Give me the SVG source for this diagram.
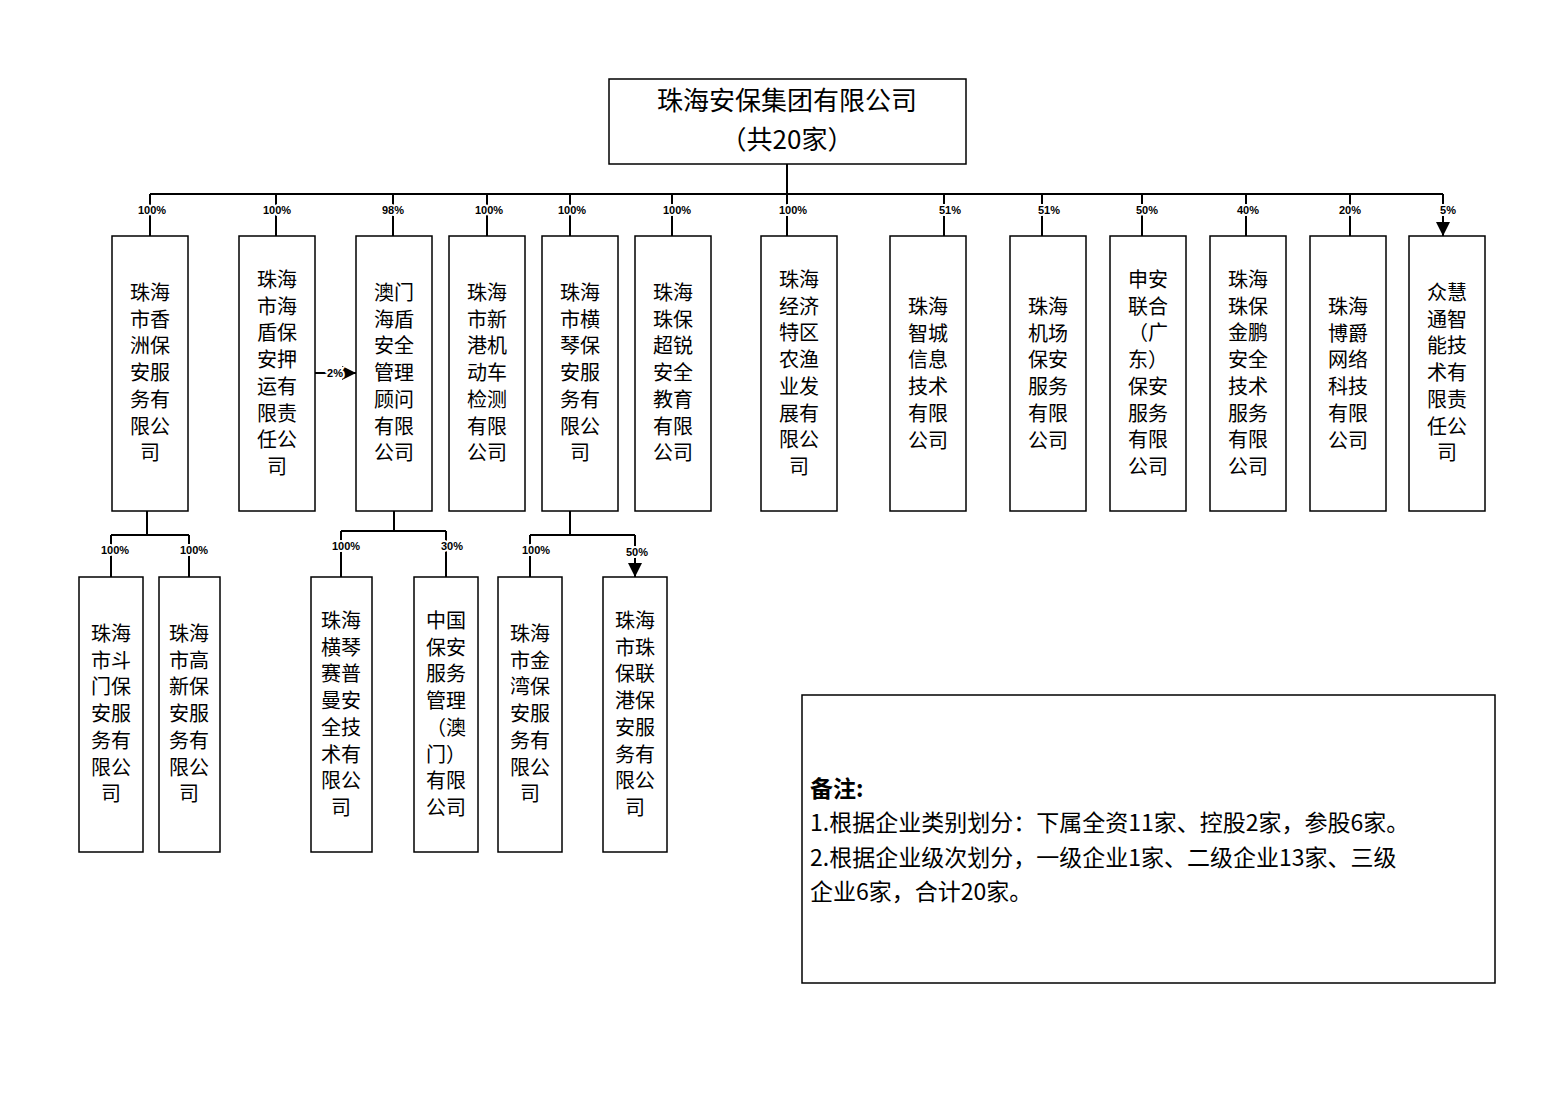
<svg xmlns="http://www.w3.org/2000/svg" width="1558" height="1101" viewBox="0 0 1558 1101">
<style>
.b{fill:#fff;stroke:#000;stroke-width:1.5}
.t{font-family:"Microsoft YaHei","Noto Sans CJK SC",sans-serif;font-size:20px;text-anchor:middle;fill:#000}
.p{font-family:"Liberation Sans","Noto Sans CJK SC",sans-serif;font-size:11px;font-weight:bold;text-anchor:middle;fill:#000;paint-order:stroke;stroke:#fff;stroke-width:4px}
.c{fill:none;stroke:#000;stroke-width:2}
.n{font-family:"Microsoft YaHei","Noto Sans CJK SC",sans-serif;font-size:23px;fill:#000}
</style>
<defs><marker id="a" viewBox="0 0 10 10" refX="10" refY="5" markerWidth="7" markerHeight="7" orient="auto" markerUnits="userSpaceOnUse"><path d="M0,0L10,5L0,10z" fill="#000"/></marker>
<marker id="ah" viewBox="0 0 10 10" refX="10" refY="5" markerWidth="14" markerHeight="14" orient="auto" markerUnits="userSpaceOnUse"><path d="M0,0L10,5L0,10z" fill="#000"/></marker></defs>
<rect width="1558" height="1101" fill="#fff"/>
<g id="connectors">
<path class="c" d="M787,164V194M150,194H1443"/>
<path class="c" marker-end="url(#ah)" d="M150,194V236M276,194V236M393,194V236M487,194V236M570,194V236M672,194V236M787,194V236M944,194V236M1042,194V236M1142,194V236M1246,194V236M1350,194V236M1443,194V236"/>
<path class="c" d="M147,511V535M111,535H189M394,511V531M341,531H446M570,511V535M530,535H635"/>
<path class="c" marker-end="url(#ah)" d="M111,535V577M189,535V577M341,531V577M446,531V577M530,535V577M635,535V577"/>
<path class="c" marker-end="url(#ah)" d="M315,373H356"/>
<text class="p" x="152" y="214">100%</text><text class="p" x="277" y="214">100%</text><text class="p" x="393" y="214">98%</text><text class="p" x="489" y="214">100%</text><text class="p" x="572" y="214">100%</text><text class="p" x="677" y="214">100%</text><text class="p" x="793" y="214">100%</text><text class="p" x="950" y="214">51%</text><text class="p" x="1049" y="214">51%</text><text class="p" x="1147" y="214">50%</text><text class="p" x="1248" y="214">40%</text><text class="p" x="1350" y="214">20%</text><text class="p" x="1448" y="214">5%</text>
<text class="p" x="335" y="377">2%</text>
<text class="p" x="115" y="554">100%</text><text class="p" x="194" y="554">100%</text><text class="p" x="346" y="550">100%</text><text class="p" x="452" y="550">30%</text><text class="p" x="536" y="554">100%</text><text class="p" x="637" y="556">50%</text>
</g>
<g id="root"><rect class="b" x="609" y="79" width="357" height="85"/><text class="t" style="font-size:26px" x="787" y="110">珠海安保集团有限公司</text><text class="t" style="font-size:26px" x="787" y="149">（共20家）</text></g>
<g id="n1"><rect class="b" x="112" y="236" width="76" height="275"/><text class="t" y="300"><tspan x="150">珠海</tspan><tspan x="150" dy="26.7">市香</tspan><tspan x="150" dy="26.7">洲保</tspan><tspan x="150" dy="26.7">安服</tspan><tspan x="150" dy="26.7">务有</tspan><tspan x="150" dy="26.7">限公</tspan><tspan x="150" dy="26.7">司</tspan></text></g>
<g id="n2"><rect class="b" x="239" y="236" width="76" height="275"/><text class="t" y="287"><tspan x="277">珠海</tspan><tspan x="277" dy="26.7">市海</tspan><tspan x="277" dy="26.7">盾保</tspan><tspan x="277" dy="26.7">安押</tspan><tspan x="277" dy="26.7">运有</tspan><tspan x="277" dy="26.7">限责</tspan><tspan x="277" dy="26.7">任公</tspan><tspan x="277" dy="26.7">司</tspan></text></g>
<g id="n3"><rect class="b" x="356" y="236" width="76" height="275"/><text class="t" y="300"><tspan x="394">澳门</tspan><tspan x="394" dy="26.7">海盾</tspan><tspan x="394" dy="26.7">安全</tspan><tspan x="394" dy="26.7">管理</tspan><tspan x="394" dy="26.7">顾问</tspan><tspan x="394" dy="26.7">有限</tspan><tspan x="394" dy="26.7">公司</tspan></text></g>
<g id="n4"><rect class="b" x="449" y="236" width="76" height="275"/><text class="t" y="300"><tspan x="487">珠海</tspan><tspan x="487" dy="26.7">市新</tspan><tspan x="487" dy="26.7">港机</tspan><tspan x="487" dy="26.7">动车</tspan><tspan x="487" dy="26.7">检测</tspan><tspan x="487" dy="26.7">有限</tspan><tspan x="487" dy="26.7">公司</tspan></text></g>
<g id="n5"><rect class="b" x="542" y="236" width="76" height="275"/><text class="t" y="300"><tspan x="580">珠海</tspan><tspan x="580" dy="26.7">市横</tspan><tspan x="580" dy="26.7">琴保</tspan><tspan x="580" dy="26.7">安服</tspan><tspan x="580" dy="26.7">务有</tspan><tspan x="580" dy="26.7">限公</tspan><tspan x="580" dy="26.7">司</tspan></text></g>
<g id="n6"><rect class="b" x="635" y="236" width="76" height="275"/><text class="t" y="300"><tspan x="673">珠海</tspan><tspan x="673" dy="26.7">珠保</tspan><tspan x="673" dy="26.7">超锐</tspan><tspan x="673" dy="26.7">安全</tspan><tspan x="673" dy="26.7">教育</tspan><tspan x="673" dy="26.7">有限</tspan><tspan x="673" dy="26.7">公司</tspan></text></g>
<g id="n7"><rect class="b" x="761" y="236" width="76" height="275"/><text class="t" y="287"><tspan x="799">珠海</tspan><tspan x="799" dy="26.7">经济</tspan><tspan x="799" dy="26.7">特区</tspan><tspan x="799" dy="26.7">农渔</tspan><tspan x="799" dy="26.7">业发</tspan><tspan x="799" dy="26.7">展有</tspan><tspan x="799" dy="26.7">限公</tspan><tspan x="799" dy="26.7">司</tspan></text></g>
<g id="n8"><rect class="b" x="890" y="236" width="76" height="275"/><text class="t" y="314"><tspan x="928">珠海</tspan><tspan x="928" dy="26.7">智城</tspan><tspan x="928" dy="26.7">信息</tspan><tspan x="928" dy="26.7">技术</tspan><tspan x="928" dy="26.7">有限</tspan><tspan x="928" dy="26.7">公司</tspan></text></g>
<g id="n9"><rect class="b" x="1010" y="236" width="76" height="275"/><text class="t" y="314"><tspan x="1048">珠海</tspan><tspan x="1048" dy="26.7">机场</tspan><tspan x="1048" dy="26.7">保安</tspan><tspan x="1048" dy="26.7">服务</tspan><tspan x="1048" dy="26.7">有限</tspan><tspan x="1048" dy="26.7">公司</tspan></text></g>
<g id="n10"><rect class="b" x="1110" y="236" width="76" height="275"/><text class="t" y="287"><tspan x="1148">申安</tspan><tspan x="1148" dy="26.7">联合</tspan><tspan x="1148" dy="26.7">（广</tspan><tspan x="1148" dy="26.7">东）</tspan><tspan x="1148" dy="26.7">保安</tspan><tspan x="1148" dy="26.7">服务</tspan><tspan x="1148" dy="26.7">有限</tspan><tspan x="1148" dy="26.7">公司</tspan></text></g>
<g id="n11"><rect class="b" x="1210" y="236" width="76" height="275"/><text class="t" y="287"><tspan x="1248">珠海</tspan><tspan x="1248" dy="26.7">珠保</tspan><tspan x="1248" dy="26.7">金鹏</tspan><tspan x="1248" dy="26.7">安全</tspan><tspan x="1248" dy="26.7">技术</tspan><tspan x="1248" dy="26.7">服务</tspan><tspan x="1248" dy="26.7">有限</tspan><tspan x="1248" dy="26.7">公司</tspan></text></g>
<g id="n12"><rect class="b" x="1310" y="236" width="76" height="275"/><text class="t" y="314"><tspan x="1348">珠海</tspan><tspan x="1348" dy="26.7">博爵</tspan><tspan x="1348" dy="26.7">网络</tspan><tspan x="1348" dy="26.7">科技</tspan><tspan x="1348" dy="26.7">有限</tspan><tspan x="1348" dy="26.7">公司</tspan></text></g>
<g id="n13"><rect class="b" x="1409" y="236" width="76" height="275"/><text class="t" y="300"><tspan x="1447">众慧</tspan><tspan x="1447" dy="26.7">通智</tspan><tspan x="1447" dy="26.7">能技</tspan><tspan x="1447" dy="26.7">术有</tspan><tspan x="1447" dy="26.7">限责</tspan><tspan x="1447" dy="26.7">任公</tspan><tspan x="1447" dy="26.7">司</tspan></text></g>
<g id="s1"><rect class="b" x="79" y="577" width="64" height="275"/><text class="t" y="641"><tspan x="111">珠海</tspan><tspan x="111" dy="26.7">市斗</tspan><tspan x="111" dy="26.7">门保</tspan><tspan x="111" dy="26.7">安服</tspan><tspan x="111" dy="26.7">务有</tspan><tspan x="111" dy="26.7">限公</tspan><tspan x="111" dy="26.7">司</tspan></text></g>
<g id="s2"><rect class="b" x="159" y="577" width="61" height="275"/><text class="t" y="641"><tspan x="189">珠海</tspan><tspan x="189" dy="26.7">市高</tspan><tspan x="189" dy="26.7">新保</tspan><tspan x="189" dy="26.7">安服</tspan><tspan x="189" dy="26.7">务有</tspan><tspan x="189" dy="26.7">限公</tspan><tspan x="189" dy="26.7">司</tspan></text></g>
<g id="s3"><rect class="b" x="311" y="577" width="61" height="275"/><text class="t" y="628"><tspan x="341">珠海</tspan><tspan x="341" dy="26.7">横琴</tspan><tspan x="341" dy="26.7">赛普</tspan><tspan x="341" dy="26.7">曼安</tspan><tspan x="341" dy="26.7">全技</tspan><tspan x="341" dy="26.7">术有</tspan><tspan x="341" dy="26.7">限公</tspan><tspan x="341" dy="26.7">司</tspan></text></g>
<g id="s4"><rect class="b" x="414" y="577" width="64" height="275"/><text class="t" y="628"><tspan x="446">中国</tspan><tspan x="446" dy="26.7">保安</tspan><tspan x="446" dy="26.7">服务</tspan><tspan x="446" dy="26.7">管理</tspan><tspan x="446" dy="26.7">（澳</tspan><tspan x="446" dy="26.7">门）</tspan><tspan x="446" dy="26.7">有限</tspan><tspan x="446" dy="26.7">公司</tspan></text></g>
<g id="s5"><rect class="b" x="498" y="577" width="64" height="275"/><text class="t" y="641"><tspan x="530">珠海</tspan><tspan x="530" dy="26.7">市金</tspan><tspan x="530" dy="26.7">湾保</tspan><tspan x="530" dy="26.7">安服</tspan><tspan x="530" dy="26.7">务有</tspan><tspan x="530" dy="26.7">限公</tspan><tspan x="530" dy="26.7">司</tspan></text></g>
<g id="s6"><rect class="b" x="603" y="577" width="64" height="275"/><text class="t" y="628"><tspan x="635">珠海</tspan><tspan x="635" dy="26.7">市珠</tspan><tspan x="635" dy="26.7">保联</tspan><tspan x="635" dy="26.7">港保</tspan><tspan x="635" dy="26.7">安服</tspan><tspan x="635" dy="26.7">务有</tspan><tspan x="635" dy="26.7">限公</tspan><tspan x="635" dy="26.7">司</tspan></text></g>
<g id="note"><rect class="b" x="802" y="695" width="693" height="288"/>
<text class="n" x="810" y="797" font-weight="bold">备注:</text>
<text class="n" x="810" y="831">1.根据企业类别划分：下属全资11家、控股2家，参股6家。</text>
<text class="n" x="810" y="866">2.根据企业级次划分，一级企业1家、二级企业13家、三级</text>
<text class="n" x="810" y="900">企业6家，合计20家。</text></g>
</svg>
